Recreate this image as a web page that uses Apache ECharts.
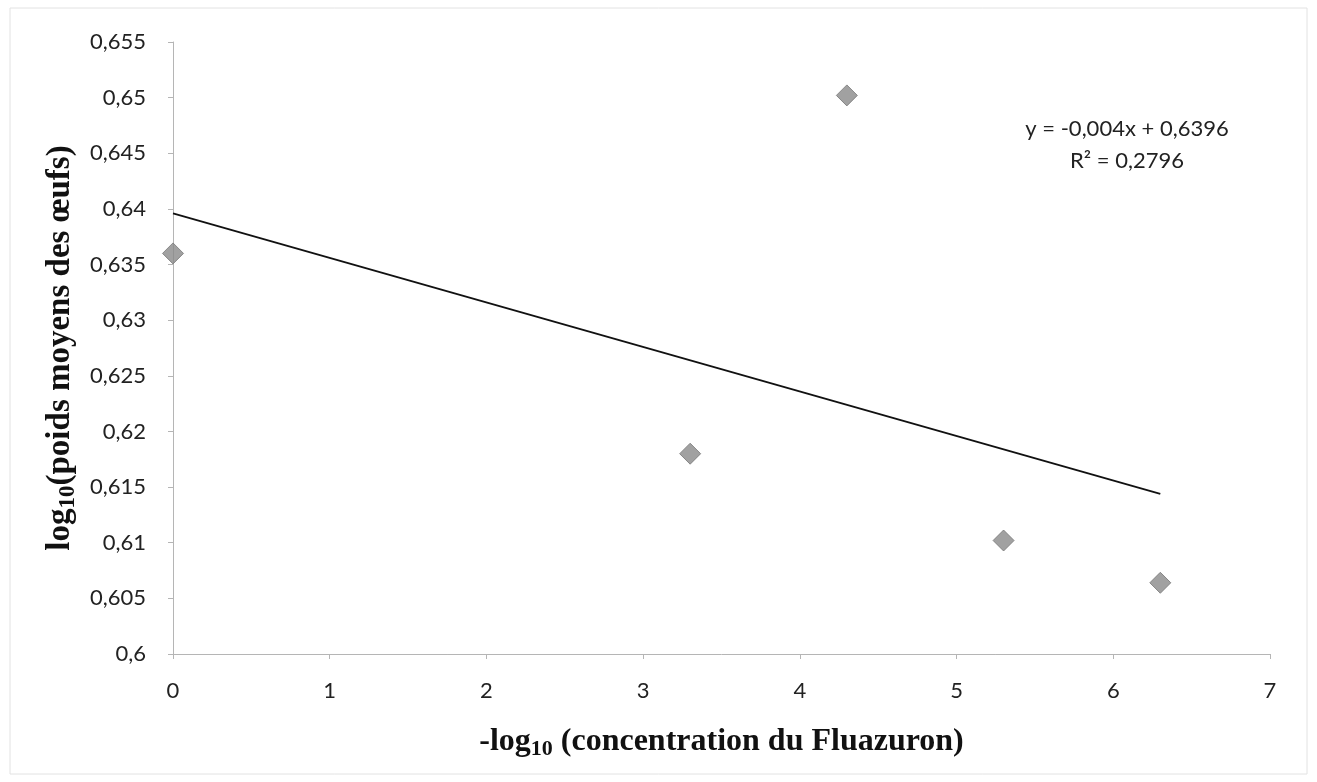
<!DOCTYPE html>
<html>
<head>
<meta charset="utf-8">
<script src="https://cdn.jsdelivr.net/npm/echarts@6/dist/echarts.min.js"></script>
<style>
html,body{margin:0;padding:0;background:#fff;}
#chart{width:1317px;height:782px;}
</style>
</head>
<body>
<div id="chart"></div>
<script>
// Data
const xValues = [0, 3.3, 4.3, 5.3, 6.3];
const yValues = [0.636, 0.618, 0.6502, 0.6102, 0.6064];
// Trendline as printed on the chart
const trendSlope = -0.004;
const trendIntercept = 0.6396;
const trendRange = [0, 6.3];
const equationLines = ['y = -0,004x + 0,6396', 'R² = 0,2796'];

const points = xValues.map((x, i) => [x, yValues[i]]);
const trendData = trendRange.map(x => [x, trendIntercept + trendSlope * x]);

const fmt = v => String(+Number(v).toFixed(3)).replace('.', ',');
const tickFont = 'Lato, "Open Sans", sans-serif';
const titleFont = '"Liberation Serif", "DejaVu Serif", serif';

const chart = echarts.init(document.getElementById('chart'), null, {renderer: 'canvas'});
chart.setOption({
  animation: false,
  backgroundColor: '#fff',
  grid: {left: 173, right: 47, top: 42, bottom: 128, containLabel: false},
  xAxis: {
    type: 'value', min: 0, max: 7, interval: 1,
    axisLine: {show: true, lineStyle: {color: '#b5b5b5', width: 1}},
    axisTick: {show: true, length: 5, lineStyle: {color: '#b5b5b5'}},
    splitLine: {show: false},
    axisLabel: {color: '#222', fontSize: 22, fontFamily: tickFont, margin: 26, formatter: fmt},
    name: '-log{sub|10} (concentration du Fluazuron)',
    nameLocation: 'middle',
    nameGap: 70,
    nameTextStyle: {
      color: '#111', fontSize: 32, fontWeight: 'bold', fontFamily: titleFont,
      rich: {sub: {fontSize: 22, fontWeight: 'bold', fontFamily: titleFont, verticalAlign: 'bottom', padding: [14, 0, 0, 0]}}
    }
  },
  yAxis: {
    type: 'value', min: 0.6, max: 0.655, interval: 0.005,
    axisLine: {show: true, lineStyle: {color: '#b5b5b5', width: 1}},
    axisTick: {show: true, length: 5, lineStyle: {color: '#b5b5b5'}},
    splitLine: {show: false},
    axisLabel: {color: '#222', fontSize: 22, fontFamily: tickFont, margin: 27, formatter: fmt},
    name: 'log{sub|10}(poids moyens des œufs)',
    nameLocation: 'middle',
    nameGap: 88,
    nameTextStyle: {
      color: '#111', fontSize: 33, fontWeight: 'bold', fontFamily: titleFont,
      rich: {sub: {fontSize: 23, fontWeight: 'bold', fontFamily: titleFont, verticalAlign: 'bottom', padding: [14, 0, 0, 0]}}
    }
  },
  series: [
    {
      type: 'line',
      data: trendData,
      symbol: 'none',
      lineStyle: {color: '#111', width: 1.8},
      z: 2
    },
    {
      type: 'scatter',
      data: points,
      symbol: 'diamond',
      symbolSize: [21, 21],
      itemStyle: {color: '#8a8a8a', borderColor: '#777', borderWidth: 1},
      z: 3
    }
  ],
  graphic: [
    {
      type: 'rect', shape: {x: 10, y: 8, width: 1297, height: 766},
      style: {fill: 'none', stroke: '#e2e2e2', lineWidth: 1}, silent: true, z: -1
    },
    {
      type: 'text', x: 1127, y: 129,
      style: {text: equationLines[0], fill: '#222', font: '22px ' + tickFont, textAlign: 'center', textVerticalAlign: 'middle'}
    },
    {
      type: 'text', x: 1127, y: 161,
      style: {text: equationLines[1], fill: '#222', font: '22px ' + tickFont, textAlign: 'center', textVerticalAlign: 'middle'}
    }
  ]
});
</script>
</body>
</html>
